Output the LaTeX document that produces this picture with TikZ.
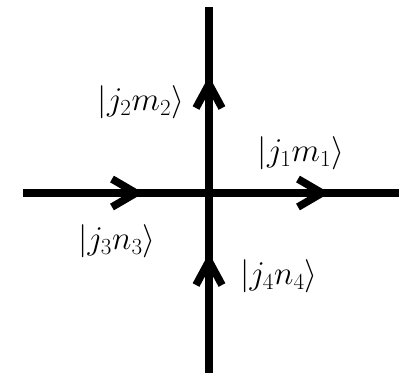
\documentclass[tikz,border=0pt]{standalone}
\usepackage{amsmath}
\usetikzlibrary{calc}
\begin{document}
\begin{tikzpicture}[x=0.75pt,y=-0.75pt,
  thick line/.style={line width=5.7pt, line cap=butt},
  chevron/.style={line width=5.7pt, line join=miter, line cap=butt},
  ket/.style={inner sep=0pt, font=\fontsize{26}{30}\selectfont}]
\useasboundingbox (0,0) rectangle (406,376);
\coordinate (top) at (209,7);
\coordinate (bot) at (209,373);
\coordinate (lft) at (23,193);
\coordinate (rgt) at (399,193);
\draw[thick line] (lft) -- (rgt);
\draw[thick line] (bot) -- (top);
% chevrons
\coordinate (a2) at (209,84);
\coordinate (a4) at (209,261);
\coordinate (a3) at (136,193);
\coordinate (a1) at (322,193);
\draw[chevron] ($(a2)+(-13,24)$) -- (a2) -- ($(a2)+(13,24)$);
\draw[chevron] ($(a4)+(-13,24)$) -- (a4) -- ($(a4)+(13,24)$);
\draw[chevron] ($(a3)+(-24,-14)$) -- (a3) -- ($(a3)+(-24,14)$);
\draw[chevron] ($(a1)+(-24,-14)$) -- (a1) -- ($(a1)+(-24,14)$);
\node[ket] (k2) at (141,102) {$|j_2m_2\rangle$};
\node[ket] (k1) at (301,153) {$|j_1m_1\rangle$};
\node[ket] (k3) at (117,241) {$|j_3n_3\rangle$};
\node[ket] (k4) at (279,276) {$|j_4n_4\rangle$};
\end{tikzpicture}
\end{document}
